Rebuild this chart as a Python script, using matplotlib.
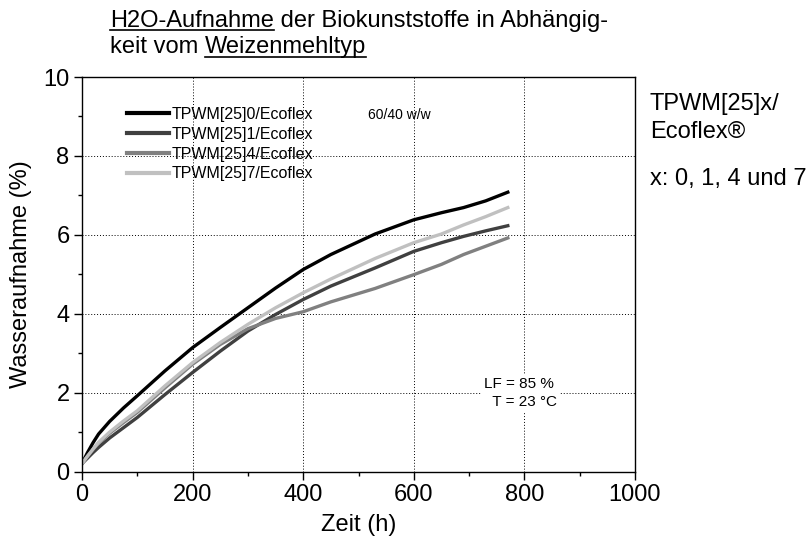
import numpy as np
import matplotlib
matplotlib.use('Agg')
import matplotlib.pyplot as plt
from matplotlib.ticker import MultipleLocator

plt.rcParams['font.family'] = ['Liberation Sans', 'DejaVu Sans']

# ============================================================================
# DATA
# ============================================================================
zeit_h = [0, 10, 20, 30, 50, 75, 100, 150, 200, 250, 300, 350, 400, 450,
          530, 600, 650, 690, 730, 770]

tpwm0 = [0.20, 0.48, 0.73, 0.95, 1.27, 1.61, 1.92, 2.55, 3.14, 3.65, 4.15, 4.65, 5.12, 5.50,
         6.02, 6.38, 6.56, 6.69, 6.86, 7.08]
tpwm1 = [0.20, 0.34, 0.48, 0.61, 0.85, 1.11, 1.37, 1.95, 2.51, 3.05, 3.56, 3.98, 4.36, 4.70,
         5.16, 5.58, 5.80, 5.96, 6.10, 6.23]
tpwm4 = [0.20, 0.39, 0.56, 0.72, 0.97, 1.24, 1.50, 2.12, 2.72, 3.22, 3.62, 3.88, 4.05, 4.30,
         4.64, 4.99, 5.25, 5.50, 5.71, 5.92]
tpwm7 = [0.20, 0.39, 0.57, 0.74, 1.00, 1.28, 1.54, 2.17, 2.76, 3.27, 3.73, 4.15, 4.53, 4.88,
         5.40, 5.80, 6.02, 6.25, 6.46, 6.69]

series_labels = ['TPWM[25]0/Ecoflex', 'TPWM[25]1/Ecoflex',
                 'TPWM[25]4/Ecoflex', 'TPWM[25]7/Ecoflex']
series_colors = ['#000000', '#404040', '#808080', '#c0c0c0']

# ============================================================================
# PLOT
# ============================================================================
W, H = 811, 549
fig = plt.figure(figsize=(W / 100, H / 100), dpi=100)
ax = fig.add_axes([82 / W, 1 - 471.5 / H, (635 - 82) / W, (471.5 - 77) / H])

for y, lab, col in zip([tpwm0, tpwm1, tpwm4, tpwm7], series_labels, series_colors):
    ax.plot(zeit_h, y, color=col, linewidth=2.4, label=lab)

ax.set_xlim(0, 1000)
ax.set_ylim(0, 10)
ax.xaxis.set_major_locator(MultipleLocator(200))
ax.xaxis.set_minor_locator(MultipleLocator(100))
ax.yaxis.set_major_locator(MultipleLocator(2))
ax.yaxis.set_minor_locator(MultipleLocator(1))
ax.tick_params(axis='both', which='major', direction='out', length=6, width=1,
               labelsize=17, pad=3, top=False, right=False)
ax.tick_params(axis='both', which='minor', direction='out', length=3, width=1,
               top=False, right=False)
ax.grid(True, which='major', color='k', linestyle=(0, (1, 2)), linewidth=0.7)
for s in ax.spines.values():
    s.set_linewidth(1)

ax.set_xlabel('Zeit (h)', fontsize=17, labelpad=6)
ax.set_ylabel('Wasseraufnahme (%)', fontsize=17, labelpad=8)

leg = ax.legend(loc='upper left', bbox_to_anchor=(0.07, 0.94), frameon=False,
                fontsize=11.5, handlelength=2.6, handletextpad=0.2,
                labelspacing=0.3, borderaxespad=0)
for h in leg.get_lines():
    h.set_linewidth(3.0)

fig.text(368 / W, 1 - 115 / H, '60/40 w/w', fontsize=10, ha='left', va='center')
ax.text(0.727, 0.199, 'LF = 85 %\n  T = 23 °C', transform=ax.transAxes,
        fontsize=11, ha='left', va='center', linespacing=1.45,
        bbox=dict(facecolor='white', edgecolor='none', pad=2))

# Right side annotation
fig.text(650 / W, 1 - 110 / H, 'TPWM[25]x/', fontsize=17, va='baseline')
fig.text(650 / W, 1 - 138 / H, 'Ecoflex®', fontsize=17, va='baseline')
fig.text(650 / W, 1 - 185 / H, 'x: 0, 1, 4 und 7', fontsize=17, va='baseline')

# Title with underlined words
fig.canvas.draw()
renderer = fig.canvas.get_renderer()


def write_line(parts, x0, y0, size=17):
    x = x0
    for txt, underline in parts:
        t = fig.text(x, y0, txt, fontsize=size, ha='left', va='baseline')
        bb = t.get_window_extent(renderer=renderer).transformed(fig.transFigure.inverted())
        if underline:
            fig.add_artist(plt.Line2D([bb.x0, bb.x1], [y0 - 3.5 / H, y0 - 3.5 / H],
                                      color='k', linewidth=1.2, transform=fig.transFigure))
        x = bb.x1


write_line([('H2O-Aufnahme', True), (' der Biokunststoffe in Abhängig-', False)],
           110 / W, 1 - 26.7 / H)
write_line([('keit vom ', False), ('Weizenmehltyp', True)],
           110 / W, 1 - 53.3 / H)

fig.savefig('out.png', dpi=100)
